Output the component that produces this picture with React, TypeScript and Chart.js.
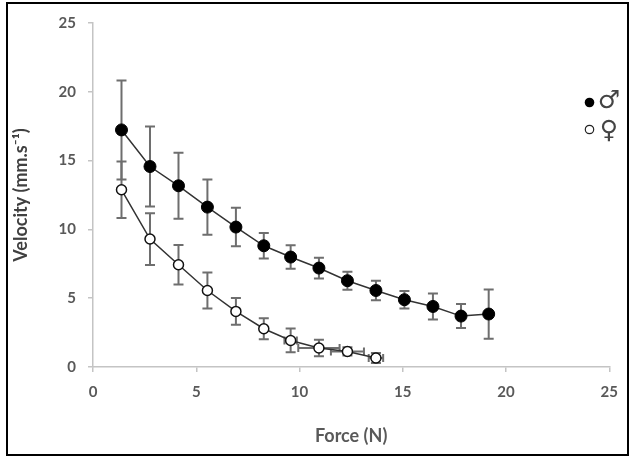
import React, { useEffect, useRef } from "react";
import { Chart, registerables } from "chart.js";
Chart.register(...registerables);

// ---- data ----
const maleForce = [1.38, 2.76, 4.14, 5.54, 6.92, 8.27, 9.57, 10.94, 12.32, 13.7, 15.08, 16.46, 17.82, 19.16];
const maleVelocity = [17.23, 14.57, 13.17, 11.62, 10.17, 8.81, 7.99, 7.19, 6.27, 5.56, 4.89, 4.4, 3.7, 3.85];
const maleVelocityErr = [3.6, 2.9, 2.4, 2.0, 1.4, 0.92, 0.85, 0.75, 0.65, 0.7, 0.64, 0.94, 0.87, 1.79];
const maleForceErr = [0, 0, 0, 0, 0, 0, 0, 0, 0, 0, 0, 0, 0, 0];

const femaleForce = [1.38, 2.76, 4.14, 5.54, 6.92, 8.27, 9.57, 10.94, 12.32, 13.7];
const femaleVelocity = [12.88, 9.3, 7.43, 5.56, 4.04, 2.78, 1.93, 1.38, 1.13, 0.65];
const femaleVelocityErr = [2.06, 1.88, 1.44, 1.31, 0.97, 0.76, 0.86, 0.6, 0.3, 0.36];
const femaleForceErr = [0, 0, 0, 0, 0, 0, 0.3, 1.0, 0.8, 0.35];

const axisTicks = [0, 5, 10, 15, 20, 25];
const legendLabels = ["\u2642", "\u2640"];
const xTitle = "Force (N)";
const yTitle = "Velocity (mm.s\u207B\u00B9)";

const errX = [maleForceErr, femaleForceErr];
const errY = [maleVelocityErr, femaleVelocityErr];

const errorBarPlugin = {
  id: "errorBars",
  beforeDatasetsDraw(chart: any) {
    const ctx = chart.ctx;
    const xs = chart.scales.x;
    const ys = chart.scales.y;
    ctx.save();
    ctx.strokeStyle = "#6e6e6e";
    ctx.lineWidth = 2;
    chart.data.datasets.forEach((ds: any, di: number) => {
      ds.data.forEach((p: any, i: number) => {
        const ey = errY[di][i] || 0;
        const ex = errX[di][i] || 0;
        const cx = xs.getPixelForValue(p.x);
        const cy = ys.getPixelForValue(p.y);
        if (ey > 0) {
          const t = ys.getPixelForValue(p.y + ey);
          const b = ys.getPixelForValue(p.y - ey);
          ctx.beginPath();
          ctx.moveTo(cx, t);
          ctx.lineTo(cx, b);
          ctx.moveTo(cx - 5, t);
          ctx.lineTo(cx + 5, t);
          ctx.moveTo(cx - 5, b);
          ctx.lineTo(cx + 5, b);
          ctx.stroke();
        }
        if (ex > 0) {
          const l = xs.getPixelForValue(p.x - ex);
          const r = xs.getPixelForValue(p.x + ex);
          ctx.beginPath();
          ctx.moveTo(l, cy);
          ctx.lineTo(r, cy);
          ctx.moveTo(l, cy - 4);
          ctx.lineTo(l, cy + 4);
          ctx.moveTo(r, cy - 4);
          ctx.lineTo(r, cy + 4);
          ctx.stroke();
        }
      });
    });
    ctx.restore();
  },
};

const legendPlugin = {
  id: "symbolLegend",
  afterDraw(chart: any) {
    const ctx = chart.ctx;
    ctx.save();
    // filled marker
    ctx.beginPath();
    ctx.arc(589.5, 102.5, 4.8, 0, Math.PI * 2);
    ctx.fillStyle = "#000";
    ctx.fill();
    // open marker
    ctx.beginPath();
    ctx.arc(589.5, 129.5, 4.2, 0, Math.PI * 2);
    ctx.fillStyle = "#fff";
    ctx.fill();
    ctx.lineWidth = 1.2;
    ctx.strokeStyle = "#222";
    ctx.stroke();
    ctx.fillStyle = "#444";
    ctx.font = "25px 'DejaVu Sans'";
    ctx.textAlign = "center";
    ctx.textBaseline = "middle";
    ctx.fillText(legendLabels[0], 609, 101);
    ctx.fillText(legendLabels[1], 609, 131);
    ctx.restore();
  },
};

export default function App() {
  const ref = useRef<HTMLCanvasElement>(null);
  useEffect(() => {
    const tickFont = { family: "Lato", size: 15, weight: "bold" as const };
    const titleFont = { family: "Lato", size: 18, weight: "bold" as const };
    const chart = new Chart(ref.current!, {
      type: "scatter",
      data: {
        datasets: [
          {
            label: legendLabels[0],
            data: maleForce.map((x, i) => ({ x, y: maleVelocity[i] })),
            showLine: true,
            borderColor: "#333",
            borderWidth: 1.5,
            pointBackgroundColor: "#000",
            pointBorderColor: "#000",
            pointRadius: 6,
            pointBorderWidth: 1,
          },
          {
            label: legendLabels[1],
            data: femaleForce.map((x, i) => ({ x, y: femaleVelocity[i] })),
            showLine: true,
            borderColor: "#333",
            borderWidth: 1.5,
            pointBackgroundColor: "#fff",
            pointBorderColor: "#111",
            pointRadius: 5,
            pointBorderWidth: 1.5,
          },
        ],
      },
      options: {
        responsive: false,
        animation: false,
        devicePixelRatio: 1,
        layout: { padding: { top: 23, right: 11, left: 0, bottom: 0 } },
        plugins: { legend: { display: false }, tooltip: { enabled: false } },
        scales: {
          x: {
            type: "linear",
            min: 0,
            max: 25,
            afterFit: (s: any) => {
              s.height = 90;
            },
            afterBuildTicks: (s: any) => {
              s.ticks = axisTicks.map((v) => ({ value: v }));
            },
            ticks: { color: "#595959", font: tickFont, padding: 11, maxRotation: 0 },
            grid: { drawOnChartArea: false, drawTicks: true, tickLength: 5, color: "#c4c4c4", lineWidth: 1.5 },
            border: { display: true, color: "#c4c4c4", width: 1.5 },
            title: { display: true, text: xTitle, color: "#595959", font: titleFont, padding: { top: 0, bottom: 10 } },
          },
          y: {
            type: "linear",
            min: 0,
            max: 25,
            afterFit: (s: any) => {
              s.width = 93;
            },
            afterBuildTicks: (s: any) => {
              s.ticks = axisTicks.map((v) => ({ value: v }));
            },
            ticks: { color: "#595959", font: tickFont, padding: 12 },
            grid: { drawOnChartArea: false, drawTicks: true, tickLength: 5, color: "#c4c4c4", lineWidth: 1.5 },
            border: { display: true, color: "#c4c4c4", width: 1.5 },
            title: { display: true, text: yTitle, color: "#404040", font: titleFont, padding: { top: 10, bottom: 0 } },
          },
        },
      },
      plugins: [errorBarPlugin, legendPlugin],
    });
    return () => chart.destroy();
  }, []);
  return (
    <div style={{ position: "fixed", left: 0, top: 0, width: 629, height: 457, background: "#fff" }}>
      <canvas ref={ref} width={629} height={457} style={{ position: "absolute", left: 0, top: 0, width: 629, height: 457 }} />
      <div
        style={{
          position: "absolute",
          left: 6,
          top: 2,
          width: 619,
          height: 450,
          border: "2px solid #000",
          pointerEvents: "none",
        }}
      />
    </div>
  );
}
